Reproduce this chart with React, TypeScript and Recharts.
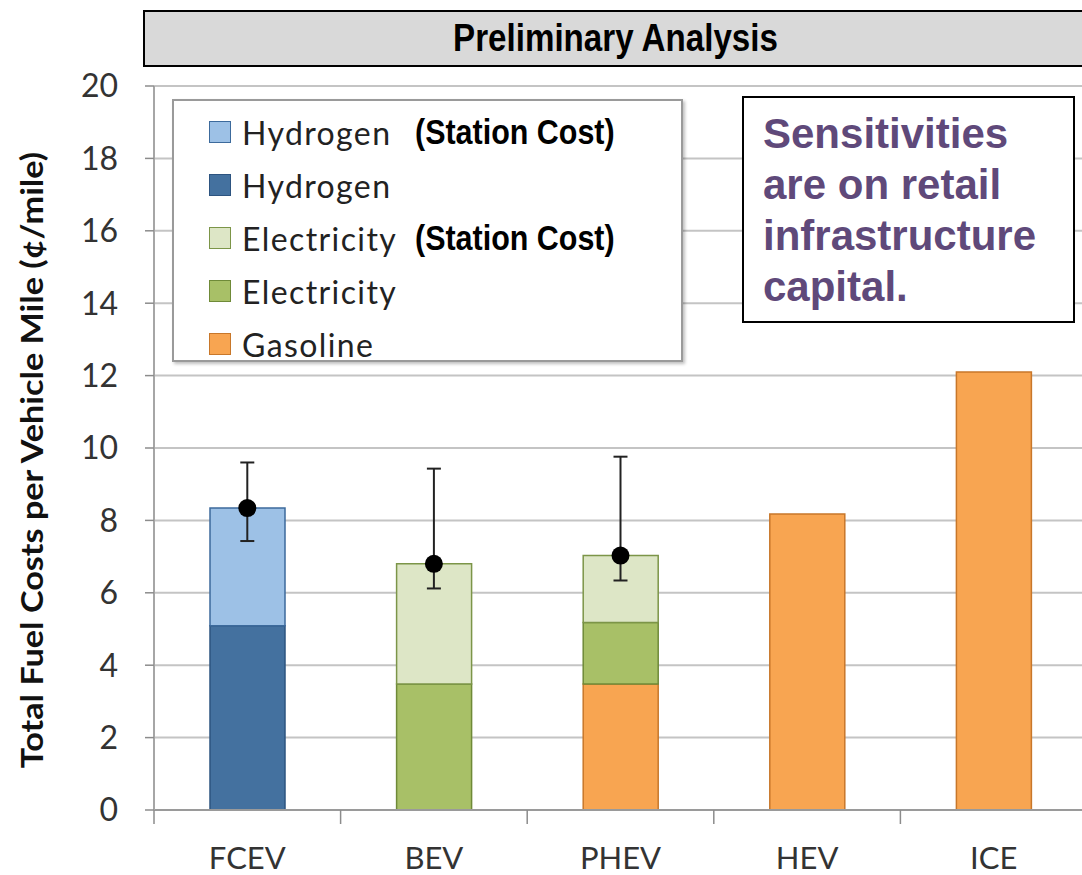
import {
  Bar,
  CartesianGrid,
  ComposedChart,
  ErrorBar,
  Line,
  XAxis,
  YAxis,
} from 'recharts'

const categories = ['FCEV', 'BEV', 'PHEV', 'HEV', 'ICE']
const gasoline = [0, 0, 3.48, 8.18, 12.1]
const electricity = [0, 3.48, 1.7, 0, 0]
const electricityStation = [0, 3.32, 1.85, 0, 0]
const hydrogen = [5.09, 0, 0, 0, 0]
const hydrogenStation = [3.25, 0, 0, 0, 0]
const baseCase = [8.34, 6.8, 7.03, null, null]
const sensitivityLow = [7.43, 6.12, 6.34, null, null]
const sensitivityHigh = [9.6, 9.43, 9.76, null, null]
const yTicks = [0, 2, 4, 6, 8, 10, 12, 14, 16, 18, 20]

const legendItems = [
  { label: 'Hydrogen', note: '(Station Cost)', fill: '#9dc1e6', stroke: '#3c6a9c' },
  { label: 'Hydrogen', note: '', fill: '#44719f', stroke: '#2d5480' },
  { label: 'Electricity', note: '(Station Cost)', fill: '#dde6c6', stroke: '#7c9548' },
  { label: 'Electricity', note: '', fill: '#a8c067', stroke: '#6f8a38' },
  { label: 'Gasoline', note: '', fill: '#f8a551', stroke: '#c8772a' },
]

const data = categories.map((name, i) => ({
  name,
  gasoline: gasoline[i],
  electricity: electricity[i],
  electricityStation: electricityStation[i],
  hydrogen: hydrogen[i],
  hydrogenStation: hydrogenStation[i],
  base: baseCase[i],
  range:
    baseCase[i] == null
      ? null
      : [baseCase[i]! - sensitivityLow[i]!, sensitivityHigh[i]! - baseCase[i]!],
}))

const tickStyle = { fontFamily: 'Lato', fontSize: 32, fill: '#333' }
const boldSans = "'Liberation Sans', Arial, sans-serif"
const X_TICK_GAP = 37

// category label + a tick mark on the left edge of each band (Excel style)
function CategoryTick(props: any) {
  const { x, y, payload } = props
  const half = payload?.offset ?? 0
  const axisY = y - X_TICK_GAP
  return (
    <g>
      <line x1={x - half} x2={x - half} y1={axisY} y2={axisY + 14} stroke="#8c8c8c" strokeWidth={1.5} />
      <text x={x} y={y} dy="0.71em" textAnchor="middle" fontFamily="Lato" fontSize={31} fill="#333">
        {payload.value}
      </text>
    </g>
  )
}

export default function App() {
  return (
    <div
      style={{
        position: 'absolute',
        left: 0,
        top: 0,
        width: 1082,
        height: 875,
        overflow: 'hidden',
        background: '#fff',
        fontFamily: 'Lato',
      }}
    >
      <ComposedChart
        width={1090}
        height={875}
        data={data}
        margin={{ top: 86, right: 3, bottom: 0, left: 0 }}
        barSize={75}
      >
        <CartesianGrid vertical={false} stroke="#c4c4c4" strokeWidth={2} />
        <XAxis
          dataKey="name"
          height={65}
          axisLine={{ stroke: '#9a9a9a', strokeWidth: 2 }}
          tickLine={false}
          tickSize={0}
          tickMargin={X_TICK_GAP}
          tick={<CategoryTick />}
        />
        <YAxis
          domain={[0, 20]}
          ticks={yTicks}
          width={154}
          tickSize={9}
          tickMargin={27}
          axisLine={{ stroke: '#a6a6a6', strokeWidth: 2 }}
          tickLine={{ stroke: '#8c8c8c', strokeWidth: 1.5 }}
          tick={tickStyle}
        />
        <Bar dataKey="gasoline" stackId="a" fill="#f8a551" stroke="#c8772a" strokeWidth={1.5} isAnimationActive={false} />
        <Bar dataKey="electricity" stackId="a" fill="#a8c067" stroke="#6f8a38" strokeWidth={1.5} isAnimationActive={false} />
        <Bar dataKey="electricityStation" stackId="a" fill="#dde6c6" stroke="#7c9548" strokeWidth={1.5} isAnimationActive={false} />
        <Bar dataKey="hydrogen" stackId="a" fill="#44719f" stroke="#2d5480" strokeWidth={1.5} isAnimationActive={false} />
        <Bar dataKey="hydrogenStation" stackId="a" fill="#9dc1e6" stroke="#3c6a9c" strokeWidth={1.5} isAnimationActive={false} />
        <Line
          dataKey="base"
          stroke="none"
          dot={{ r: 9, fill: '#000', stroke: 'none' }}
          activeDot={false}
          isAnimationActive={false}
        >
          <ErrorBar dataKey="range" direction="y" width={7} stroke="#222" strokeWidth={2} />
        </Line>
      </ComposedChart>

      {/* title strip */}
      <div
        style={{
          position: 'absolute',
          left: 143,
          top: 10,
          width: 960,
          height: 57,
          boxSizing: 'border-box',
          background: '#d9d9d9',
          border: '2px solid #000',
        }}
      />
      <div
        style={{
          position: 'absolute',
          left: 143,
          top: 10,
          width: 945,
          height: 57,
          lineHeight: '55px',
          textAlign: 'center',
          fontFamily: boldSans,
          fontWeight: 'bold',
          fontSize: 39,
          color: '#000',
          transform: 'scaleX(0.85)',
        }}
      >
        Preliminary Analysis
      </div>

      {/* y axis title */}
      <div
        style={{
          position: 'absolute',
          left: 31,
          top: 460,
          transform: 'translate(-50%, -50%) rotate(-90deg) scaleX(1.14)',
          whiteSpace: 'nowrap',
          fontFamily: 'Lato',
          fontWeight: 'bold',
          fontSize: 30,
          color: '#111',
        }}
      >
        Total Fuel Costs per Vehicle Mile (¢/mile)
      </div>

      {/* legend */}
      <div
        style={{
          position: 'absolute',
          left: 172,
          top: 99,
          width: 511,
          height: 263,
          boxSizing: 'border-box',
          background: '#fff',
          border: '2px solid #9a9a9a',
          boxShadow: '2px 2px 3px rgba(0,0,0,0.25)',
        }}
      >
        {legendItems.map((item, i) => (
          <div
            key={i}
            style={{
              position: 'absolute',
              left: 35,
              top: 13 + i * 53,
              height: 36,
              display: 'flex',
              alignItems: 'center',
              whiteSpace: 'nowrap',
            }}
          >
            <span
              style={{
                display: 'inline-block',
                width: 20,
                height: 20,
                background: item.fill,
                border: `1.5px solid ${item.stroke}`,
                marginRight: 11,
              }}
            />
            <span style={{ fontFamily: 'Lato', fontSize: 32, letterSpacing: 1.4, color: '#222', width: 173 }}>
              {item.label}
            </span>
            {item.note && (
              <span
                style={{
                  display: 'inline-block',
                  fontFamily: boldSans,
                  fontWeight: 'bold',
                  fontSize: 35,
                  color: '#000',
                  transform: 'scaleX(0.87)',
                  transformOrigin: 'left center',
                }}
              >
                {item.note}
              </span>
            )}
          </div>
        ))}
      </div>

      {/* annotation */}
      <div
        style={{
          position: 'absolute',
          left: 742,
          top: 96,
          width: 333,
          height: 227,
          boxSizing: 'border-box',
          background: '#fff',
          border: '2px solid #000',
          padding: '10px 0 0 19px',
          fontFamily: boldSans,
          fontWeight: 'bold',
          fontSize: 42,
          lineHeight: '51px',
          color: '#5f497a',
        }}
      >
        Sensitivities
        <br />
        are on retail
        <br />
        infrastructure
        <br />
        capital.
      </div>
    </div>
  )
}
